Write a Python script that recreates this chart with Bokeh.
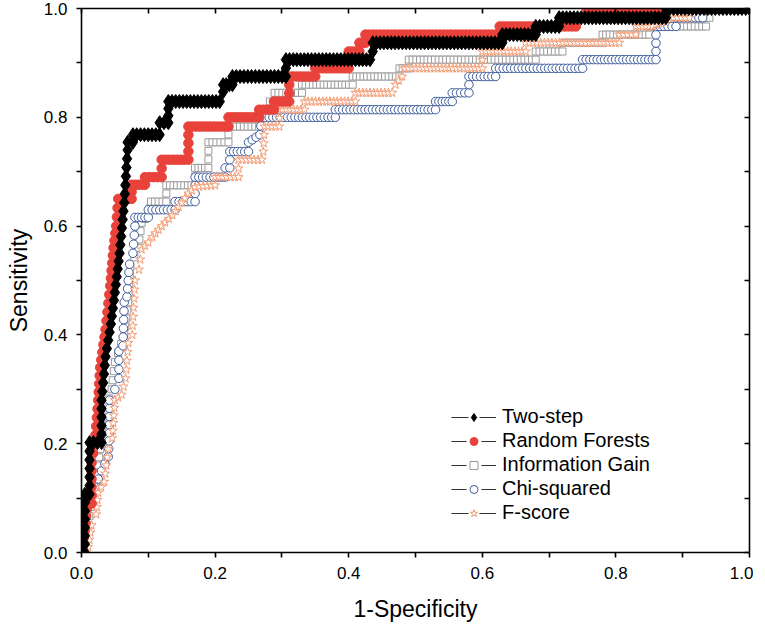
import numpy as np
from bokeh.plotting import figure
from bokeh.models import (LinearAxis, FixedTicker, PrintfTickFormatter, Range1d,
                          ColumnDataSource, Legend, LegendItem, CustomLabelingPolicy)
from bokeh.embed import file_html
from bokeh.resources import INLINE

# ---------------- data: ROC step-curve vertices ----------------
two_step_fpr = [0, 0.005, 0.005, 0.012, 0.012, 0.030, 0.030, 0.036, 0.044, 0.050,
                0.057, 0.064, 0.069, 0.069, 0.077, 0.077, 0.117, 0.117, 0.130, 0.130,
                0.207, 0.212, 0.212, 0.226, 0.226, 0.306, 0.306, 0.432, 0.436, 0.436,
                0.630, 0.630, 0.680, 0.680, 0.715, 0.715, 0.875, 0.875, 1.0]
two_step_tpr = [0, 0, 0.107, 0.107, 0.202, 0.202, 0.280, 0.360, 0.420, 0.478,
                0.550, 0.643, 0.740, 0.754, 0.754, 0.768, 0.768, 0.790, 0.790, 0.829,
                0.829, 0.847, 0.860, 0.860, 0.875, 0.875, 0.906, 0.906, 0.921, 0.937,
                0.937, 0.952, 0.952, 0.967, 0.967, 0.983, 0.983, 1.0, 1.0]

rf_fpr = [0, 0.005, 0.008, 0.015, 0.015, 0.020, 0.025, 0.028, 0.036, 0.043,
          0.048, 0.052, 0.055, 0.075, 0.075, 0.095, 0.095, 0.120, 0.120, 0.160,
          0.160, 0.220, 0.220, 0.266, 0.266, 0.288, 0.288, 0.311, 0.311, 0.350,
          0.350, 0.400, 0.400, 0.416, 0.416, 0.425, 0.425, 0.626, 0.626, 0.740,
          0.745, 0.756, 0.756, 1.0]
rf_tpr = [0, 0.040, 0.080, 0.090, 0.165, 0.200, 0.280, 0.340, 0.410, 0.490,
          0.560, 0.600, 0.650, 0.650, 0.676, 0.676, 0.690, 0.690, 0.722, 0.722,
          0.783, 0.783, 0.800, 0.800, 0.814, 0.814, 0.829, 0.829, 0.875, 0.875,
          0.890, 0.890, 0.921, 0.921, 0.937, 0.937, 0.952, 0.952, 0.967, 0.967,
          0.983, 0.983, 1.0, 1.0]

ig_fpr = [0, 0.010, 0.015, 0.022, 0.028, 0.035, 0.045, 0.050, 0.064, 0.070,
          0.073, 0.085, 0.090, 0.100, 0.104, 0.127, 0.127, 0.170, 0.170, 0.190,
          0.190, 0.220, 0.220, 0.266, 0.266, 0.278, 0.282, 0.289, 0.289, 0.330,
          0.330, 0.406, 0.406, 0.476, 0.476, 0.490, 0.490, 0.680, 0.680, 0.720,
          0.720, 0.780, 0.780, 0.850, 0.850, 0.935, 0.935, 0.940, 0.940, 1.0]
ig_tpr = [0, 0.050, 0.100, 0.130, 0.190, 0.250, 0.300, 0.350, 0.400, 0.460,
          0.525, 0.560, 0.606, 0.620, 0.645, 0.645, 0.675, 0.675, 0.707, 0.707,
          0.754, 0.754, 0.783, 0.783, 0.800, 0.800, 0.829, 0.829, 0.845, 0.845,
          0.860, 0.860, 0.875, 0.875, 0.890, 0.890, 0.906, 0.906, 0.921, 0.921,
          0.937, 0.937, 0.952, 0.952, 0.967, 0.967, 0.983, 0.983, 1.0, 1.0]

chi_fpr = [0, 0.005, 0.008, 0.020, 0.030, 0.040, 0.042, 0.042, 0.050, 0.056,
           0.056, 0.062, 0.064, 0.068, 0.072, 0.077, 0.080, 0.080, 0.100, 0.100,
           0.140, 0.140, 0.170, 0.170, 0.215, 0.215, 0.222, 0.222, 0.250, 0.250,
           0.267, 0.270, 0.380, 0.380, 0.530, 0.530, 0.555, 0.555, 0.580, 0.580,
           0.620, 0.620, 0.750, 0.750, 0.860, 0.860, 0.890, 0.890, 0.930, 0.930, 1.0]
chi_tpr = [0, 0.020, 0.080, 0.120, 0.150, 0.176, 0.220, 0.280, 0.300, 0.320,
           0.370, 0.380, 0.460, 0.470, 0.530, 0.550, 0.600, 0.616, 0.616, 0.630,
           0.630, 0.645, 0.645, 0.690, 0.690, 0.707, 0.707, 0.737, 0.737, 0.754,
           0.768, 0.800, 0.800, 0.814, 0.814, 0.829, 0.829, 0.845, 0.845, 0.875,
           0.875, 0.890, 0.890, 0.906, 0.906, 0.967, 0.967, 0.983, 0.983, 1.0, 1.0]

fs_fpr = [0, 0.010, 0.015, 0.022, 0.025, 0.034, 0.040, 0.046, 0.050, 0.060,
          0.066, 0.070, 0.076, 0.080, 0.086, 0.090, 0.100, 0.106, 0.120, 0.136,
          0.150, 0.160, 0.170, 0.200, 0.200, 0.235, 0.235, 0.270, 0.272, 0.274,
          0.296, 0.296, 0.334, 0.334, 0.410, 0.410, 0.465, 0.470, 0.480, 0.484,
          0.600, 0.600, 0.665, 0.665, 0.805, 0.805, 0.830, 0.830, 0.855, 0.880,
          0.910, 0.910, 1.0]
fs_tpr = [0, 0.010, 0.050, 0.070, 0.110, 0.130, 0.190, 0.210, 0.280, 0.290,
          0.320, 0.385, 0.400, 0.500, 0.520, 0.557, 0.570, 0.580, 0.600, 0.620,
          0.643, 0.660, 0.672, 0.675, 0.690, 0.690, 0.722, 0.722, 0.737, 0.783,
          0.783, 0.814, 0.814, 0.829, 0.829, 0.845, 0.845, 0.860, 0.875, 0.890,
          0.890, 0.921, 0.921, 0.937, 0.937, 0.952, 0.952, 0.967, 0.967, 0.983,
          0.983, 1.0, 1.0]

series_names = ["Two-step", "Random Forests", "Information Gain", "Chi-squared", "F-score"]
x_ticks = [0.0, 0.2, 0.4, 0.6, 0.8, 1.0]
x_minor = [0.1, 0.3, 0.5, 0.7, 0.9]

# ROC threshold grid (1 / negatives, 1 / positives) used to place the markers on each step
FPR_STEP = 1 / 180
TPR_STEP = 1 / 65


def roc_points(xs, ys):
    px, py = [xs[0]], [ys[0]]
    for i in range(1, len(xs)):
        x0, y0, x1, y1 = xs[i - 1], ys[i - 1], xs[i], ys[i]
        n = int(round(max(abs(x1 - x0) / FPR_STEP, abs(y1 - y0) / TPR_STEP)))
        n = max(n, 1)
        for k in range(1, n + 1):
            t = k / n
            px.append(x0 + t * (x1 - x0))
            py.append(y0 + t * (y1 - y0))
    return px, py


FONT = "Liberation Sans"

p = figure(frame_width=668, frame_height=544, x_range=Range1d(0, 1), y_range=Range1d(0, 1),
           output_backend="svg", toolbar_location=None,
           min_border_left=81, min_border_top=8, min_border_right=4, min_border_bottom=76,
           x_axis_label="1-Specificity", y_axis_label="Sensitivity")
p.grid.visible = False
p.outline_line_color = None
p.background_fill_color = "white"

ticker = FixedTicker(ticks=x_ticks, minor_ticks=x_minor)

for ax in (p.xaxis[0], p.yaxis[0]):
    ax.ticker = ticker
    ax.formatter = PrintfTickFormatter(format="%.1f")
    ax.axis_line_width = 1.6
    ax.major_tick_line_width = 1.6
    ax.minor_tick_line_width = 1.6
    ax.major_tick_in = 0
    ax.major_tick_out = 5
    ax.minor_tick_in = 0
    ax.minor_tick_out = 5
    ax.major_label_text_font = FONT
    ax.major_label_text_font_size = "17px"
    ax.major_label_text_color = "black"
    ax.major_label_standoff = 9
    ax.axis_label_text_font = FONT
    ax.axis_label_text_font_size = "23px"
    ax.axis_label_text_font_style = "normal"
    ax.axis_label_text_color = "black"
p.xaxis[0].axis_label_standoff = 14
p.yaxis[0].axis_label_standoff = 9

no_labels = CustomLabelingPolicy(code="return []")
for side in ("above", "right"):
    ax = LinearAxis(ticker=ticker, axis_line_width=1.6, major_tick_line_width=1.6,
                    minor_tick_line_width=1.6, major_tick_in=5, major_tick_out=0,
                    minor_tick_in=5, minor_tick_out=0, major_label_text_font_size="1px",
                    major_label_standoff=0, major_label_policy=no_labels)
    p.add_layout(ax, side)

styles = [
    # name, x, y, marker, size, fill, line
    ("Information Gain", ig_fpr, ig_tpr, "square", 7, "white", "#9a9a9a"),
    ("Chi-squared", chi_fpr, chi_tpr, "circle", 8.5, "white", "#3d5c9c"),
    ("F-score", fs_fpr, fs_tpr, "star", 9.5, "white", "#f29b74"),
    ("Random Forests", rf_fpr, rf_tpr, "circle", 9.5, "#e8423b", "#e8423b"),
    ("Two-step", two_step_fpr, two_step_tpr, "diamond", 14, "black", "black"),
]

legend_parts = {}
for name, xs, ys, marker, size, fill, line in styles:
    px, py = roc_points(xs, ys)
    src = ColumnDataSource(dict(x=px, y=py))
    p.scatter("x", "y", source=src, marker=marker, size=size, fill_color=fill,
              line_color=line, line_width=1)
    # legend-only renderers (a single NaN point, nothing drawn in the plot)
    blank = ColumnDataSource(dict(x=[np.nan], y=[np.nan]))
    r_line = p.line("x", "y", source=blank, line_color="#333333", line_width=1)
    r_halo = p.scatter("x", "y", source=blank, marker=marker, fill_color="white",
                       line_color="white", line_width=7)
    r_mark = p.scatter("x", "y", source=blank, marker=marker, fill_color=fill,
                       line_color=line, line_width=1)
    legend_parts[name] = [r_line, r_halo, r_mark]

items = [LegendItem(label=n, renderers=legend_parts[n]) for n in series_names]
legend = Legend(items=items, location=(370, 28), glyph_width=45, glyph_height=20,
                spacing=1, label_standoff=6, padding=0, margin=0,
                border_line_color=None, background_fill_alpha=0,
                label_text_font=FONT, label_text_font_size="20px",
                label_text_color="black", label_height=20)
p.add_layout(legend)

open("out.html", "w").write(file_html(p, INLINE))
